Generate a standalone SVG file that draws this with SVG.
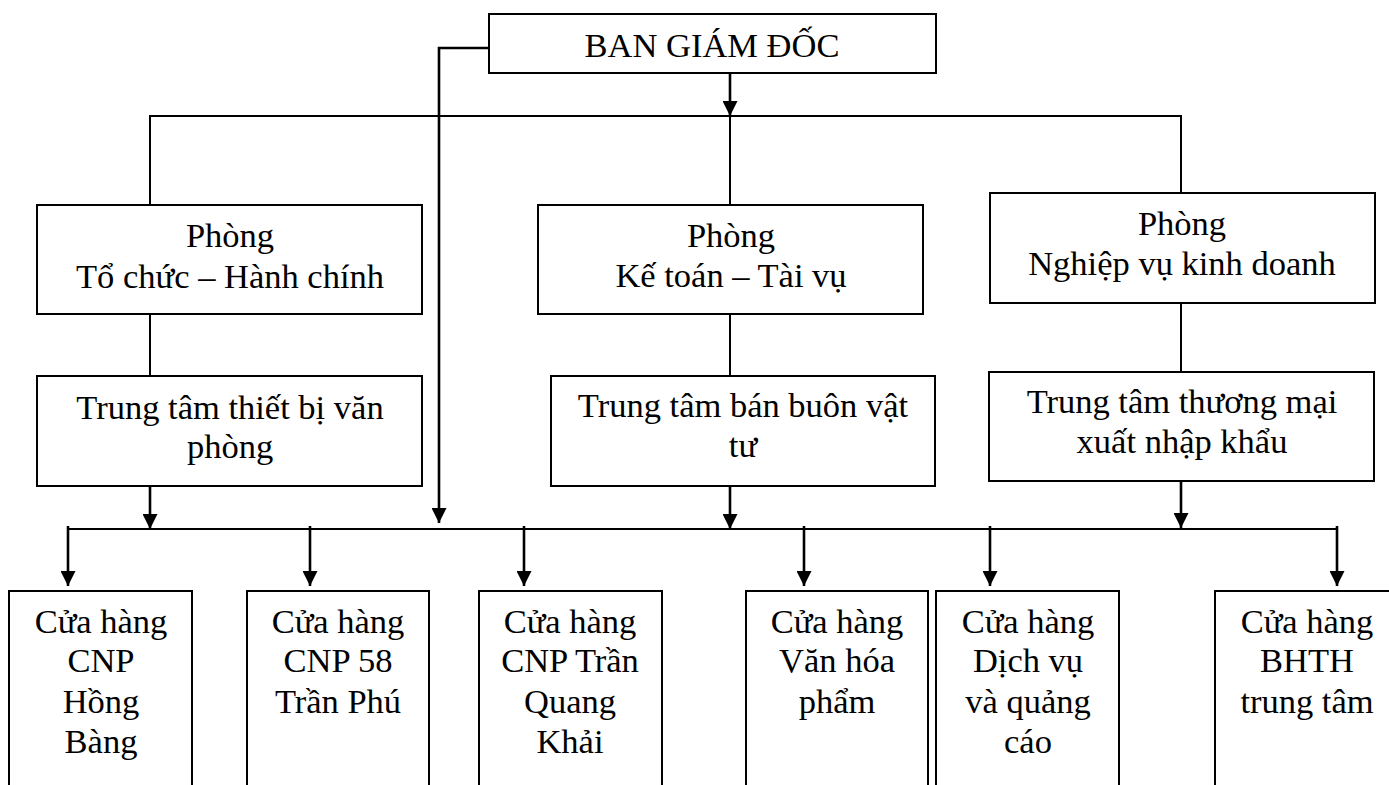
<svg xmlns="http://www.w3.org/2000/svg" width="1389" height="785" viewBox="0 0 1389 785">
  <style>
    .box { fill: #ffffff; stroke: #000000; stroke-width: 2; }
    .lbl { font-family: "Liberation Serif", "Times New Roman", serif; font-size: 34.5px; fill: #000000; text-anchor: middle; }
    .wire { fill: none; stroke: #000000; stroke-width: 2; }
    .arrow { fill: none; stroke: #000000; stroke-width: 2.6; marker-end: url(#head); }
  </style>
  <defs>
    <marker id="head" viewBox="0 0 15 15" refX="15" refY="7.5" markerWidth="15" markerHeight="15" markerUnits="userSpaceOnUse" orient="auto">
      <path d="M0,0 L15,7.5 L0,15 Z" fill="#000000"/>
    </marker>
  </defs>
  <rect width="1389" height="785" fill="#ffffff"/>

  <!-- connectors -->
  <g id="connectors">
    <path class="wire" d="M150,205 V116 H1181 V193"/>
    <path class="wire" d="M730,116 V205"/>
    <path class="wire" d="M150,314 V376"/>
    <path class="wire" d="M730,314 V376"/>
    <path class="wire" d="M1181,303 V372"/>
    <path class="wire" d="M68,529 H1337"/>
    <path class="arrow" d="M489,48 H439 V523"/>
    <path class="arrow" d="M730,73 V116"/>
    <path class="arrow" d="M150,486 V529"/>
    <path class="arrow" d="M730,486 V529"/>
    <path class="arrow" d="M1181,481 V528"/>
    <path class="arrow" d="M68,526 V586"/>
    <path class="arrow" d="M310,526 V586"/>
    <path class="arrow" d="M524,526 V586"/>
    <path class="arrow" d="M804,526 V586"/>
    <path class="arrow" d="M990,526 V586"/>
    <path class="arrow" d="M1337,526 V586"/>
  </g>

  <!-- management -->
  <g id="ban-giam-doc">
    <rect class="box" x="489" y="14" width="447" height="59"/>
    <text class="lbl" x="712" y="57">BAN GIÁM ĐỐC</text>
  </g>

  <!-- departments -->
  <g id="phong-to-chuc">
    <rect class="box" x="37" y="205" width="385" height="109"/>
    <text class="lbl" x="230" y="247">Phòng</text>
    <text class="lbl" x="230" y="288">Tổ chức – Hành chính</text>
  </g>
  <g id="phong-ke-toan">
    <rect class="box" x="538" y="205" width="385" height="109"/>
    <text class="lbl" x="731" y="247">Phòng</text>
    <text class="lbl" x="731" y="287">Kế toán – Tài vụ</text>
  </g>
  <g id="phong-nghiep-vu">
    <rect class="box" x="990" y="193" width="385" height="110"/>
    <text class="lbl" x="1182" y="235">Phòng</text>
    <text class="lbl" x="1182" y="275">Nghiệp vụ kinh doanh</text>
  </g>

  <!-- centres -->
  <g id="tt-thiet-bi">
    <rect class="box" x="37" y="376" width="385" height="110"/>
    <text class="lbl" x="230" y="419">Trung tâm thiết bị văn</text>
    <text class="lbl" x="230" y="458">phòng</text>
  </g>
  <g id="tt-ban-buon">
    <rect class="box" x="551" y="376" width="384" height="110"/>
    <text class="lbl" x="743" y="417">Trung tâm bán buôn vật</text>
    <text class="lbl" x="743" y="457">tư</text>
  </g>
  <g id="tt-thuong-mai">
    <rect class="box" x="989" y="372" width="385" height="109"/>
    <text class="lbl" x="1182" y="413">Trung tâm thương mại</text>
    <text class="lbl" x="1182" y="453">xuất nhập khẩu</text>
  </g>

  <!-- stores -->
  <g id="ch-hong-bang">
    <rect class="box" x="9" y="591" width="183" height="220"/>
    <text class="lbl" x="101" y="633">Cửa hàng</text>
    <text class="lbl" x="101" y="672">CNP</text>
    <text class="lbl" x="101" y="713">Hồng</text>
    <text class="lbl" x="101" y="753">Bàng</text>
  </g>
  <g id="ch-tran-phu">
    <rect class="box" x="247" y="591" width="182" height="220"/>
    <text class="lbl" x="338" y="633">Cửa hàng</text>
    <text class="lbl" x="338" y="672">CNP 58</text>
    <text class="lbl" x="338" y="713">Trần Phú</text>
  </g>
  <g id="ch-tran-quang-khai">
    <rect class="box" x="479" y="591" width="183" height="220"/>
    <text class="lbl" x="570" y="633">Cửa hàng</text>
    <text class="lbl" x="570" y="672">CNP Trần</text>
    <text class="lbl" x="570" y="713">Quang</text>
    <text class="lbl" x="570" y="753">Khải</text>
  </g>
  <g id="ch-van-hoa-pham">
    <rect class="box" x="746" y="591" width="182" height="220"/>
    <text class="lbl" x="837" y="633">Cửa hàng</text>
    <text class="lbl" x="837" y="672">Văn hóa</text>
    <text class="lbl" x="837" y="713">phẩm</text>
  </g>
  <g id="ch-dich-vu">
    <rect class="box" x="936" y="591" width="183" height="220"/>
    <text class="lbl" x="1028" y="633">Cửa hàng</text>
    <text class="lbl" x="1028" y="672">Dịch vụ</text>
    <text class="lbl" x="1028" y="713">và quảng</text>
    <text class="lbl" x="1028" y="753">cáo</text>
  </g>
  <g id="ch-bhth">
    <rect class="box" x="1215" y="591" width="185" height="220"/>
    <text class="lbl" x="1307" y="633">Cửa hàng</text>
    <text class="lbl" x="1307" y="672">BHTH</text>
    <text class="lbl" x="1307" y="713">trung tâm</text>
  </g>
</svg>
